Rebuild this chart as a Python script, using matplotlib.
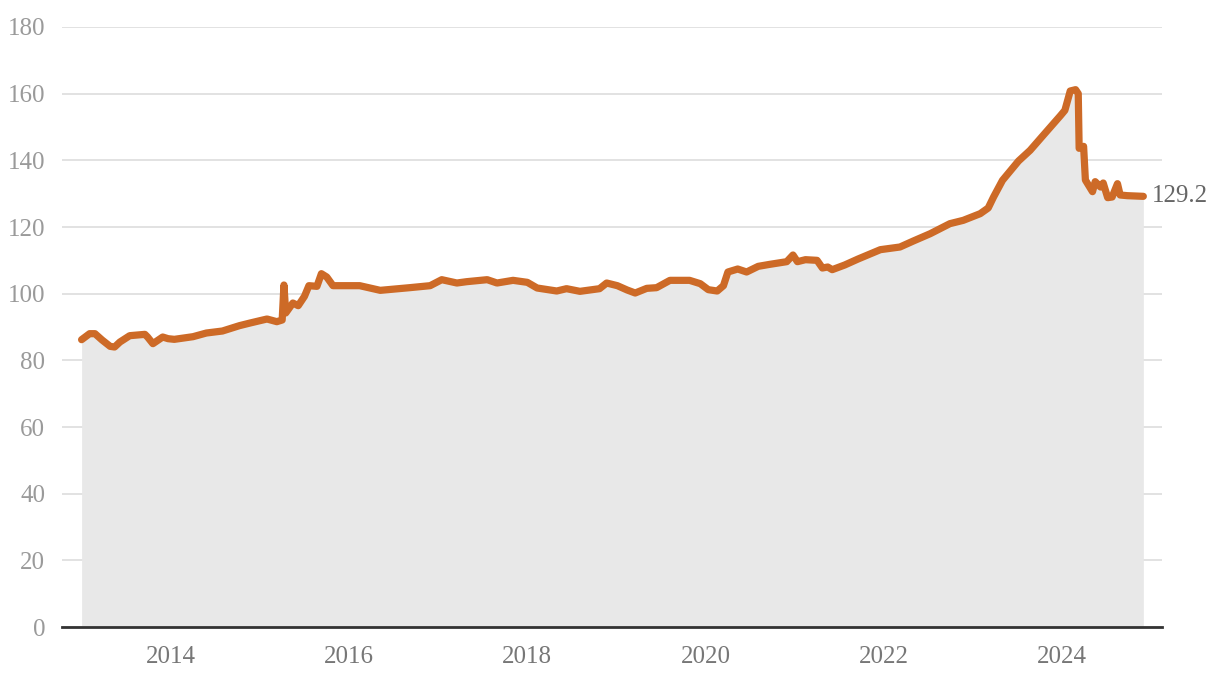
import matplotlib
matplotlib.use("Agg")
import numpy as np
import matplotlib.pyplot as plt

# decimal year vs index value
years = [2013.00, 2013.09, 2013.15, 2013.23, 2013.32, 2013.37, 2013.43, 2013.54,
         2013.71, 2013.74, 2013.80, 2013.91, 2013.97, 2014.04, 2014.25, 2014.40,
         2014.58, 2014.77, 2014.89, 2015.00, 2015.08, 2015.19, 2015.25, 2015.27,
         2015.29, 2015.37, 2015.43, 2015.50, 2015.55, 2015.64, 2015.69, 2015.75,
         2015.82, 2015.93, 2016.12, 2016.35, 2016.68, 2016.91, 2017.04, 2017.21,
         2017.32, 2017.55, 2017.66, 2017.84, 2018.00, 2018.11, 2018.33, 2018.44,
         2018.59, 2018.81, 2018.89, 2019.01, 2019.12, 2019.21, 2019.34, 2019.45,
         2019.60, 2019.82, 2019.94, 2020.03, 2020.13, 2020.20, 2020.25, 2020.36,
         2020.46, 2020.59, 2020.72, 2020.91, 2020.98, 2021.03, 2021.12, 2021.25,
         2021.31, 2021.37, 2021.42, 2021.56, 2021.71, 2021.96, 2022.18, 2022.33,
         2022.52, 2022.74, 2022.89, 2023.08, 2023.17, 2023.23, 2023.33, 2023.51,
         2023.64, 2023.79, 2023.98, 2024.03, 2024.09, 2024.15, 2024.18, 2024.19,
         2024.24, 2024.26, 2024.34, 2024.37, 2024.43, 2024.46, 2024.51, 2024.56,
         2024.62, 2024.65, 2024.73, 2024.91]
values = [86.2, 88.0, 88.0, 86.1, 84.2, 84.0, 85.5, 87.4,
          87.8, 87.0, 85.0, 87.0, 86.5, 86.3, 87.1, 88.2,
          88.8, 90.4, 91.2, 91.9, 92.4, 91.6, 92.1, 102.6,
          94.2, 97.2, 96.4, 99.2, 102.4, 102.2, 106.0, 105.0,
          102.4, 102.4, 102.4, 101.0, 101.8, 102.4, 104.2, 103.2,
          103.6, 104.2, 103.2, 104.0, 103.4, 101.7, 100.8, 101.5,
          100.7, 101.5, 103.2, 102.4, 101.1, 100.2, 101.6, 101.8,
          104.0, 104.0, 103.0, 101.2, 100.8, 102.4, 106.5, 107.4,
          106.5, 108.2, 108.8, 109.6, 111.6, 109.6, 110.2, 110.0,
          107.7, 108.0, 107.2, 108.6, 110.4, 113.2, 114.0, 115.8,
          118.0, 121.0, 122.0, 124.0, 125.7, 129.0, 134.0, 139.8,
          143.0, 147.6, 153.4, 155.0, 160.8, 161.2, 160.0, 143.6,
          144.2, 134.1, 130.6, 133.6, 132.0, 133.2, 128.8, 129.0,
          133.0, 129.6, 129.4, 129.2]
tick_years = [2014, 2016, 2018, 2020, 2022, 2024]
y_ticks = list(range(0, 181, 20))
last_label = "129.2"

line_color = "#CD6A27"
fill_color = "#E8E8E8"
serif = ["Liberation Serif", "DejaVu Serif"]

fig = plt.figure(figsize=(12.2, 6.8), dpi=100)
ax = fig.add_axes([0.0508, 0.0779, 0.9017, 0.8824])

ax.fill_between(years, values, 0, color=fill_color, linewidth=0, zorder=1)
ax.plot(years, values, color=line_color, linewidth=5.2, solid_capstyle="round",
        solid_joinstyle="round", zorder=3)

ax.text(years[-1] + 0.1, values[-1], last_label, va="center", ha="left",
        fontsize=18, color="#666666", family=serif)

ax.set_xlim(2012.78, 2025.12)
ax.set_ylim(0, 180)
ax.set_yticks(y_ticks)
ax.set_xticks(tick_years)
ax.set_xticklabels([str(y) for y in tick_years])

ax.grid(axis="y", color="#DDDDDD", linewidth=1.2, zorder=0)
ax.set_axisbelow(True)
for s in ["top", "right", "left"]:
    ax.spines[s].set_visible(False)
ax.spines["bottom"].set_color("#333333")
ax.spines["bottom"].set_linewidth(2)
ax.spines["bottom"].set_zorder(4)

ax.tick_params(axis="both", length=0)
ax.tick_params(axis="y", pad=12, labelsize=18, labelcolor="#9A9A9A")
ax.tick_params(axis="x", pad=14, labelsize=18, labelcolor="#777777")
for lab in ax.get_xticklabels() + ax.get_yticklabels():
    lab.set_family(serif)

fig.savefig("out.png", dpi=100)
